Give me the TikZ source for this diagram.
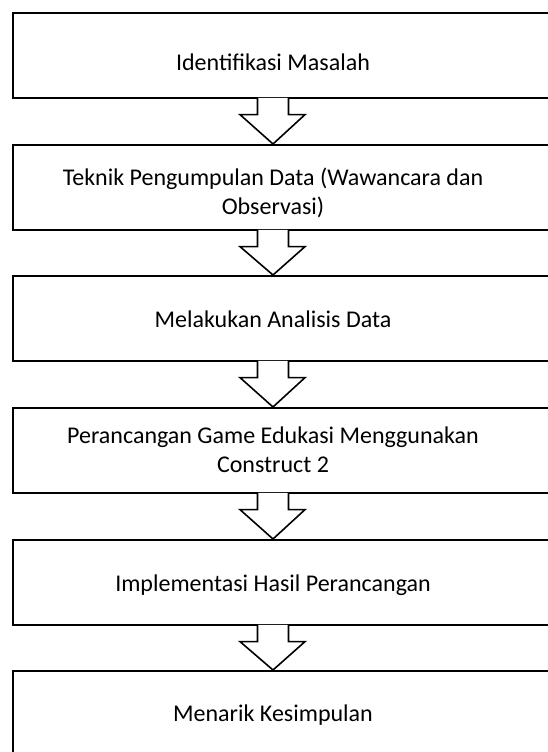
\documentclass[tikz,border=0pt]{standalone}
\usepackage{fontspec}
\setmainfont{Carlito}
\tikzset{
  stepbox/.style={draw=black, line width=1.6pt, fill=white, rectangle, minimum width=560pt, minimum height=85pt, anchor=north west, inner sep=0pt},
  lbl/.style={align=center, font=\fontsize{24}{28.5}\selectfont, inner sep=0pt},
  blockarr/.style={draw=black, fill=white, line width=1.6pt, line join=miter},
}
\newcommand{\blockarrow}[2]{%
  \path (#1.south -| 273,0) coordinate (s#1) (#2.north -| 273,0) coordinate (t#2);
  \filldraw[blockarr] ([xshift=-15.5pt,yshift=0.8pt]s#1) -- ([xshift=-15.5pt,yshift=-16pt]s#1)
     -- ([xshift=-33pt,yshift=-16pt]s#1) -- (t#2) -- ([xshift=32pt,yshift=-16pt]s#1)
     -- ([xshift=15.5pt,yshift=-16pt]s#1) -- ([xshift=15.5pt,yshift=0.8pt]s#1);
}
\begin{document}
\begin{tikzpicture}[x=1pt,y=-1pt]
\useasboundingbox (0,0) rectangle (548,752);
\clip (0,0) rectangle (548,752);
\node[stepbox] (b1) at (12,12) {};
\node[stepbox] (b2) at (12,144) {};
\node[stepbox] (b3) at (12,275) {};
\node[stepbox] (b4) at (12,407) {};
\node[stepbox] (b5) at (12,539) {};
\node[stepbox] (b6) at (12,670) {};
\node[lbl] (t1) at (273,62) {Identifikasi Masalah};
\node[lbl] (t2) at (273,193) {Teknik Pengumpulan Data (Wawancara dan\\Observasi)};
\node[lbl] (t3) at (273,319) {Melakukan Analisis Data};
\node[lbl] (t4) at (273,450) {Perancangan Game Edukasi Menggunakan\\Construct 2};
\node[lbl] (t5) at (273,585) {Implementasi Hasil Perancangan};
\node[lbl] (t6) at (273,715) {Menarik Kesimpulan};
\blockarrow{b1}{b2}
\blockarrow{b2}{b3}
\blockarrow{b3}{b4}
\blockarrow{b4}{b5}
\blockarrow{b5}{b6}
\end{tikzpicture}
\end{document}
